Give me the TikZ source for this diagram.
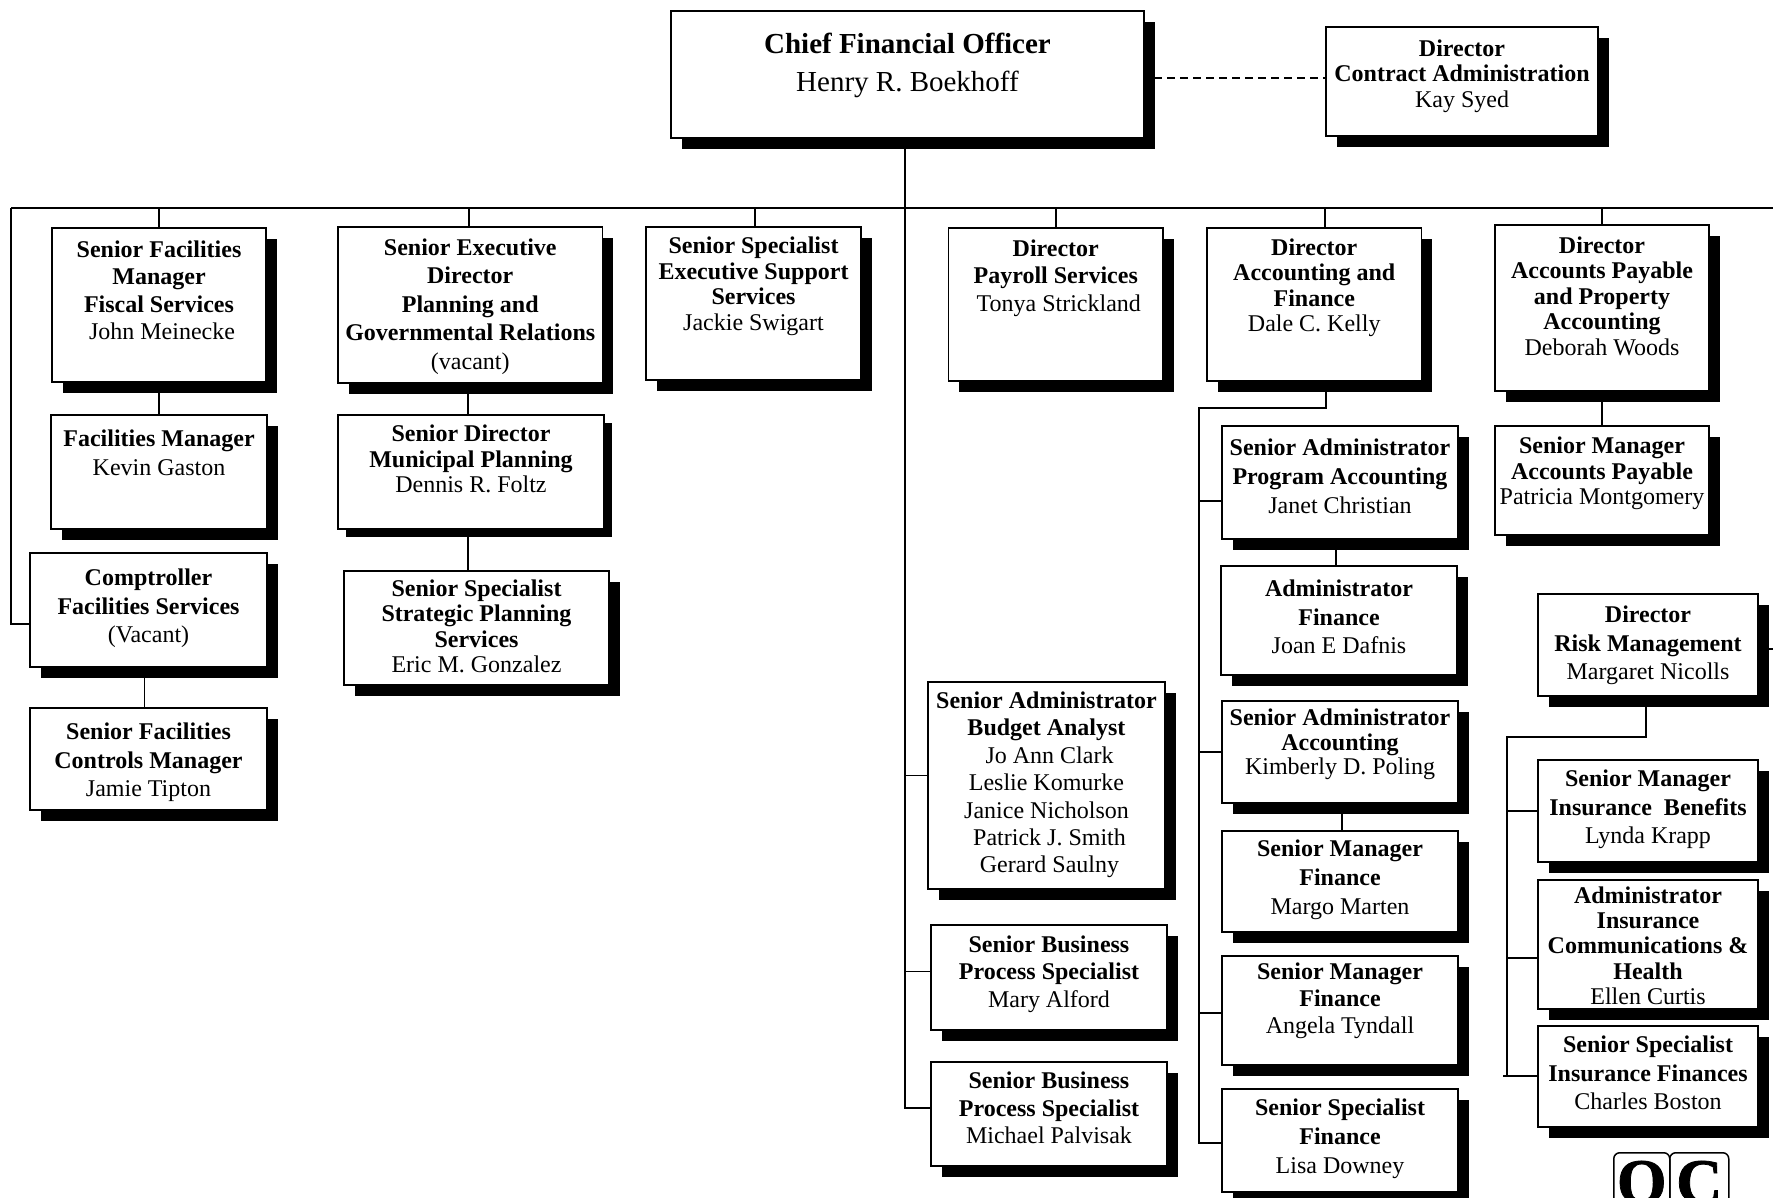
\documentclass[tikz,border=0pt]{standalone}
\usepackage{fontspec}
\setmainfont{Liberation Serif}
\newfontfamily\logofont[UprightFont=* Bold, FakeBold=1.2]{Liberation Serif}
\usetikzlibrary{shadows}
% w, h, first baseline, line skip, text
\newcommand{\orgtext}[5]{\parbox[c][#2pt][t]{#1pt}{\centering\baselineskip=#4pt\vspace*{\dimexpr#3pt-19.5pt\relax}\rule{0pt}{20pt}#5\par}}
\newcommand{\ns}{\hspace*{6pt}}
\tikzset{
    x=1pt,y=-1pt,
    conn/.style = {line width=1.6pt},
    orgbase/.style = {draw, fill=white, line width=1.5pt, anchor=north west, inner sep=0pt, outer sep=0pt,
        font=\fontsize{24}{28}\selectfont},
    orgbox/.style = {orgbase, drop shadow={shadow xshift=10.5pt, shadow yshift=-11pt, fill=black, opacity=1}},
    thinbox/.style = {orgbase, drop shadow={shadow xshift=7.5pt, shadow yshift=-8pt, fill=black, opacity=1}},
    bigbox/.style = {orgbox, font=\fontsize{29}{38}\selectfont},
    logobox/.style = {draw, line width=1.5pt, rounded corners=6pt, anchor=north west, inner sep=0pt,
        minimum height=58pt, text height=43pt, text depth=0pt, font=\fontsize{64}{66}\logofont}
}
\begin{document}
\begin{tikzpicture}
    \useasboundingbox (0,0) rectangle (1773,1198);
    \coordinate (busl) at (11,208);
    \coordinate (busr) at (1773,208);
    \coordinate (acctbus) at (1199,408);
    \coordinate (riskbus) at (1507,737);
    \coordinate (riskr) at (1773,649);
    \coordinate (insstub) at (1503,1076);

    \node[bigbox] (cfo) at (671,11) {\orgtext{473}{127}{42}{38}{\textbf{Chief Financial Officer}\\Henry R. Boekhoff}};
    \node[orgbox] (contract) at (1326,27) {\orgtext{272}{109}{29}{25.5}{\textbf{Director\\Contract Administration}\\Kay Syed}};

    % left columns
    \node[orgbox] (sfm) at (52,228) {\orgtext{214}{154}{29}{27.4}{\textbf{Senior Facilities\\Manager\\Fiscal Services}\\\ns John Meinecke}};
    \node[orgbox] (fm) at (51,415) {\orgtext{216}{114}{31}{29}{\textbf{Facilities Manager}\\Kevin Gaston}};
    \node[orgbox] (compt) at (30,553) {\orgtext{237}{114}{32}{28.5}{\textbf{Comptroller\\Facilities Services}\\(Vacant)}};
    \node[orgbox] (controls) at (30,708) {\orgtext{237}{102}{31}{28.5}{\textbf{Senior Facilities\\Controls Manager}\\Jamie Tipton}};
    \node[orgbox] (srexec) at (338,227) {\orgtext{264.5}{156}{28}{28.5}{\textbf{Senior Executive\\Director\\Planning and\\Governmental Relations}\\(vacant)}};
    \node[thinbox] (srdir) at (338,415) {\orgtext{266}{114}{26}{25.5}{\textbf{Senior Director\\Municipal Planning}\\Dennis R. Foltz}};
    \node[orgbox] (specstrat) at (344,571) {\orgtext{265}{114}{25}{25.3}{\textbf{Senior Specialist\\Strategic Planning\\Services}\\Eric M. Gonzalez}};
    \node[orgbox] (specexec) at (646,227) {\orgtext{215}{153}{26}{25.7}{\textbf{Senior Specialist\\Executive Support\\Services}\\Jackie Swigart}};

    % middle
    \node[orgbox] (payroll) at (948.5,228) {\orgtext{214.5}{153}{28}{27.5}{\textbf{Director\\Payroll Services}\\\ns Tonya Strickland}};
    \node[orgbox] (budget) at (928,682) {\orgtext{237}{207}{26}{27.4}{\textbf{Senior Administrator\\Budget Analyst}\\\ns Jo Ann Clark\\Leslie Komurke\\Janice Nicholson\\\ns Patrick J. Smith\\\ns Gerard Saulny}};
    \node[orgbox] (biza) at (931,925) {\orgtext{236}{105}{26.5}{27.6}{\textbf{Senior Business\\Process Specialist}\\Mary Alford}};
    \node[orgbox] (bizb) at (931,1062) {\orgtext{236}{104}{26}{27.6}{\textbf{Senior Business\\Process Specialist}\\Michael Palvisak}};

    % accounting
    \node[orgbox] (acct) at (1207,228) {\orgtext{214.5}{153}{27}{25.5}{\textbf{Director\\Accounting and\\Finance}\\Dale C. Kelly}};
    \node[orgbox] (progacct) at (1222,426) {\orgtext{236}{113}{29}{29}{\textbf{Senior Administrator\\Program Accounting}\\Janet Christian}};
    \node[orgbox] (finadmin) at (1221,566) {\orgtext{236}{109}{30}{28.5}{\textbf{Administrator\\Finance}\\Joan E Dafnis}};
    \node[orgbox] (acctadmin) at (1222,701) {\orgtext{236}{102}{24}{24.5}{\textbf{Senior Administrator\\Accounting}\\Kimberly D. Poling}};
    \node[orgbox] (margo) at (1222,831) {\orgtext{236}{101}{25}{29}{\textbf{Senior Manager\\Finance}\\Margo Marten}};
    \node[orgbox] (angela) at (1222,956) {\orgtext{236}{109}{23}{27}{\textbf{Senior Manager\\Finance}\\Angela Tyndall}};
    \node[orgbox] (lisa) at (1222,1089) {\orgtext{236}{103}{26}{29}{\textbf{Senior Specialist\\Finance}\\Lisa Downey}};

    % right
    \node[orgbox] (ap) at (1495,225) {\orgtext{214}{166}{28}{25.5}{\textbf{Director\\Accounts Payable\\and Property\\Accounting}\\Deborah Woods}};
    \node[orgbox] (apmgr) at (1495,426) {\orgtext{214}{109}{27}{25.5}{\textbf{Senior Manager\\Accounts Payable}\\Patricia Montgomery}};
    \node[orgbox] (risk) at (1538,594) {\orgtext{220}{102}{28}{28.5}{\textbf{Director\\Risk Management}\\Margaret Nicolls}};
    \node[orgbox] (insben) at (1538,760) {\orgtext{220}{102}{26}{28.5}{\textbf{Senior Manager\\Insurance~ Benefits}\\Lynda Krapp}};
    \node[orgbox] (insadm) at (1538,880) {\orgtext{220}{129}{23}{25.2}{\textbf{Administrator\\Insurance\\Communications \&\\Health}\\Ellen Curtis}};
    \node[orgbox] (insspec) at (1538,1026) {\orgtext{220}{101}{26}{28.5}{\textbf{Senior Specialist\\Insurance Finances}\\Charles Boston}};

    \node[logobox, minimum width=56pt] (logoo) at (1613,1152) {O};
    \node[logobox, minimum width=59pt] (logoc) at (1669,1152) {C};

    \draw[conn, dash pattern=on 8pt off 5pt, dash phase=3pt, line width=2pt] ([yshift=-3.5pt]cfo.east) -- ([yshift=3.5pt]contract.west);
    \draw[conn] (busl) -- (busr);
    \draw[conn] ([xshift=-2.5pt]cfo.south) |- ([yshift=6pt]bizb.west);
    \draw[conn] ([xshift=-2.5pt]cfo.south |- budget.west) ++(0,-10) -- ([yshift=10pt]budget.west);
    \draw[conn] ([xshift=-2.5pt]cfo.south |- biza.west) ++(0,-6) -- ([yshift=6pt]biza.west);
    \draw[conn] (busl) |- ([yshift=-14pt]compt.west);

    \path[conn, draw] (busl -| sfm.north) -- (sfm.north);
    \path[conn, draw] (sfm.south) -- (fm.north);
    \path[conn, draw] ([xshift=-4pt]compt.south) -- ([xshift=-4pt]compt.south |- controls.north);
    \path[conn, draw] ([xshift=-1.5pt]srexec.north |- busl) -- ([xshift=-1.5pt]srexec.north);
    \path[conn, draw] ([xshift=-2pt]srexec.south) -- ([xshift=-2pt]srexec.south |- srdir.north);
    \path[conn, draw] ([xshift=-3pt]srdir.south) -- ([xshift=-3pt]srdir.south |- specstrat.north);
    \path[conn, draw] ([xshift=1.5pt]specexec.north |- busl) -- ([xshift=1.5pt]specexec.north);
    \path[conn, draw] (payroll.north |- busl) -- (payroll.north);
    \path[conn, draw] ([xshift=11pt]acct.north |- busl) -- ([xshift=11pt]acct.north);
    \path[conn, draw] (ap.north |- busl) -- (ap.north);
    \path[conn, draw] (ap.south) -- (ap.south |- apmgr.north);

    \draw[conn] ([xshift=12pt]acct.south) |- (acctbus) |- ([yshift=-2.5pt]lisa.west);
    \draw[conn] (acctbus |- progacct.west) ++(0,18.5) -- ([yshift=-18.5pt]progacct.west);
    \draw[conn] (acctbus |- acctadmin.west) -- (acctadmin.west);
    \draw[conn] (acctbus |- angela.west) ++(0,2.5) -- ([yshift=-2.5pt]angela.west);
    \draw[conn] ([xshift=-4pt]progacct.south) -- ([xshift=-4pt]progacct.south |- finadmin.north);
    \draw[conn] ([xshift=2pt]acctadmin.south) -- ([xshift=2pt]acctadmin.south |- margo.north);

    \draw[conn] ([yshift=-4pt]risk.east) -- (riskr);
    \draw[conn] ([xshift=-2pt]risk.south) |- (riskbus) -- (riskbus |- insstub);
    \draw[conn] (riskbus |- insben.west) -- (insben.west);
    \draw[conn] (riskbus |- insadm.west) ++(0,13.5) -- ([yshift=-13.5pt]insadm.west);
    \draw[conn] (insstub) -- (insstub -| insspec.west);
\end{tikzpicture}
\end{document}
